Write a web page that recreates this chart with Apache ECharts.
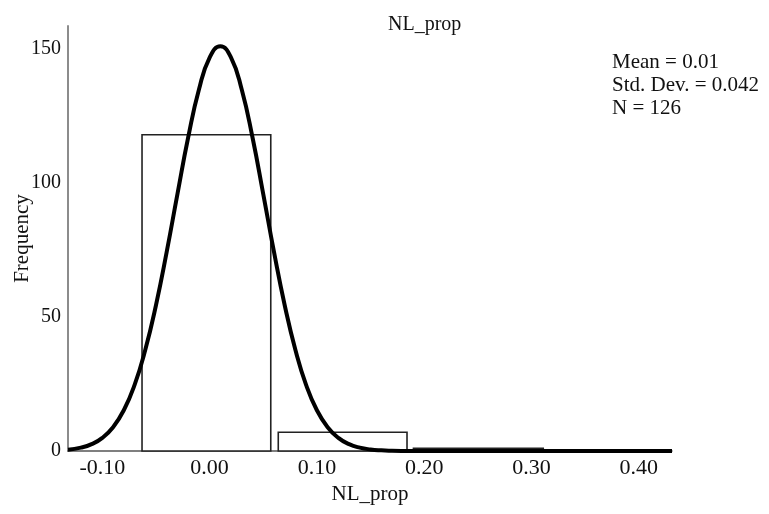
<!DOCTYPE html>
<html>
<head>
<meta charset="utf-8">
<script src="https://cdn.jsdelivr.net/npm/echarts@6/dist/echarts.min.js"></script>
<style>html,body{margin:0;padding:0;background:#fff}#c{width:769px;height:514px}</style>
</head>
<body>
<div id="c"></div>
<script>
// Histogram bins (NL_prop)
var binStart = [-0.063, 0.064, 0.190];
var binEnd   = [0.057, 0.184, 0.311];
var binCount = [118, 7, 1];

// Normal curve
var curveX = [-0.132, -0.12, -0.11, -0.10, -0.09, -0.08, -0.07, -0.06, -0.05, -0.04, -0.03, -0.02, -0.01, 0.00, 0.01, 0.02, 0.03, 0.04, 0.05, 0.06, 0.07, 0.08, 0.09, 0.10, 0.11, 0.12, 0.13, 0.14, 0.15, 0.16, 0.17, 0.18, 0.20, 0.30, 0.431];
var curveY = [0.5, 1.25, 2.55, 4.9, 8.9, 15.2, 24.6, 37.7, 54.4, 74.3, 95.9, 117.0, 134.8, 146.8, 151.0, 146.8, 134.8, 117.0, 95.9, 74.3, 54.4, 37.7, 24.6, 15.2, 8.9, 4.9, 2.55, 1.25, 0.58, 0.26, 0.11, 0.04, 0, 0, 0];

// Axis tick labels
var xTicks = [-0.10, 0.00, 0.10, 0.20, 0.30, 0.40];
var statsLines = ['Mean = 0.01', 'Std. Dev. = 0.042', 'N = 126'];
var titleText = 'NL_prop';
var xName = 'NL_prop';
var yName = 'Frequency';

var FONT = '"Liberation Serif", "Times New Roman", serif';

var barData = binStart.map(function (s, i) { return [s, binEnd[i], binCount[i]]; });
var lineData = curveX.map(function (x, i) { return [x, curveY[i]]; });

var chart = echarts.init(document.getElementById('c'), null, { renderer: 'canvas' });
chart.setOption({
  backgroundColor: '#fff',
  animation: false,
  title: {
    text: titleText, left: 383, top: 10,
    textStyle: { fontFamily: FONT, fontSize: 20, fontWeight: 'normal', color: '#111' }
  },
  grid: { left: 68, right: 97, top: 26, bottom: 63, containLabel: false, outerBoundsMode: 'none' },
  xAxis: {
    type: 'value', min: -0.132, max: 0.431,
    name: xName, nameLocation: 'middle', nameGap: 33, nameMoveOverlap: false,
    nameTextStyle: { fontFamily: FONT, fontSize: 21, color: '#111' },
    axisLine: { show: true, onZero: false, lineStyle: { color: '#555', width: 1.5 } },
    axisTick: { show: false },
    splitLine: { show: false },
    axisLabel: {
      customValues: xTicks, margin: 6,
      fontFamily: FONT, fontSize: 22, color: '#111',
      formatter: function (v) { return v.toFixed(2); }
    }
  },
  yAxis: {
    type: 'value', min: 0, max: 158.6, interval: 50,
    name: yName, nameLocation: 'middle', nameGap: 35, nameMoveOverlap: false,
    nameTextStyle: { fontFamily: FONT, fontSize: 21, color: '#111' },
    axisLine: { show: true, onZero: false, lineStyle: { color: '#8c8c8c', width: 2 } },
    axisTick: { show: false },
    splitLine: { show: false },
    axisLabel: { showMaxLabel: false, margin: 7, fontFamily: FONT, fontSize: 20, color: '#111' }
  },
  graphic: [{
    type: 'text', left: 612, top: 51,
    style: {
      text: statsLines.join('\n'), font: '21px ' + FONT, lineHeight: 23, fill: '#111'
    }
  }],
  series: [{
    type: 'custom',
    data: barData,
    clip: false,
    renderItem: function (params, api) {
      var p0 = api.coord([api.value(0), 0]);
      var p1 = api.coord([api.value(1), api.value(2)]);
      return {
        type: 'rect',
        shape: { x: p0[0], y: p1[1], width: p1[0] - p0[0], height: p0[1] - p1[1] },
        style: { fill: '#fff', stroke: '#222', lineWidth: 1.6 }
      };
    },
    z: 2
  }, {
    type: 'line',
    data: lineData,
    smooth: 0.5,
    showSymbol: false,
    clip: false,
    lineStyle: { color: '#000', width: 4 },
    z: 3
  }]
});
</script>
</body>
</html>
